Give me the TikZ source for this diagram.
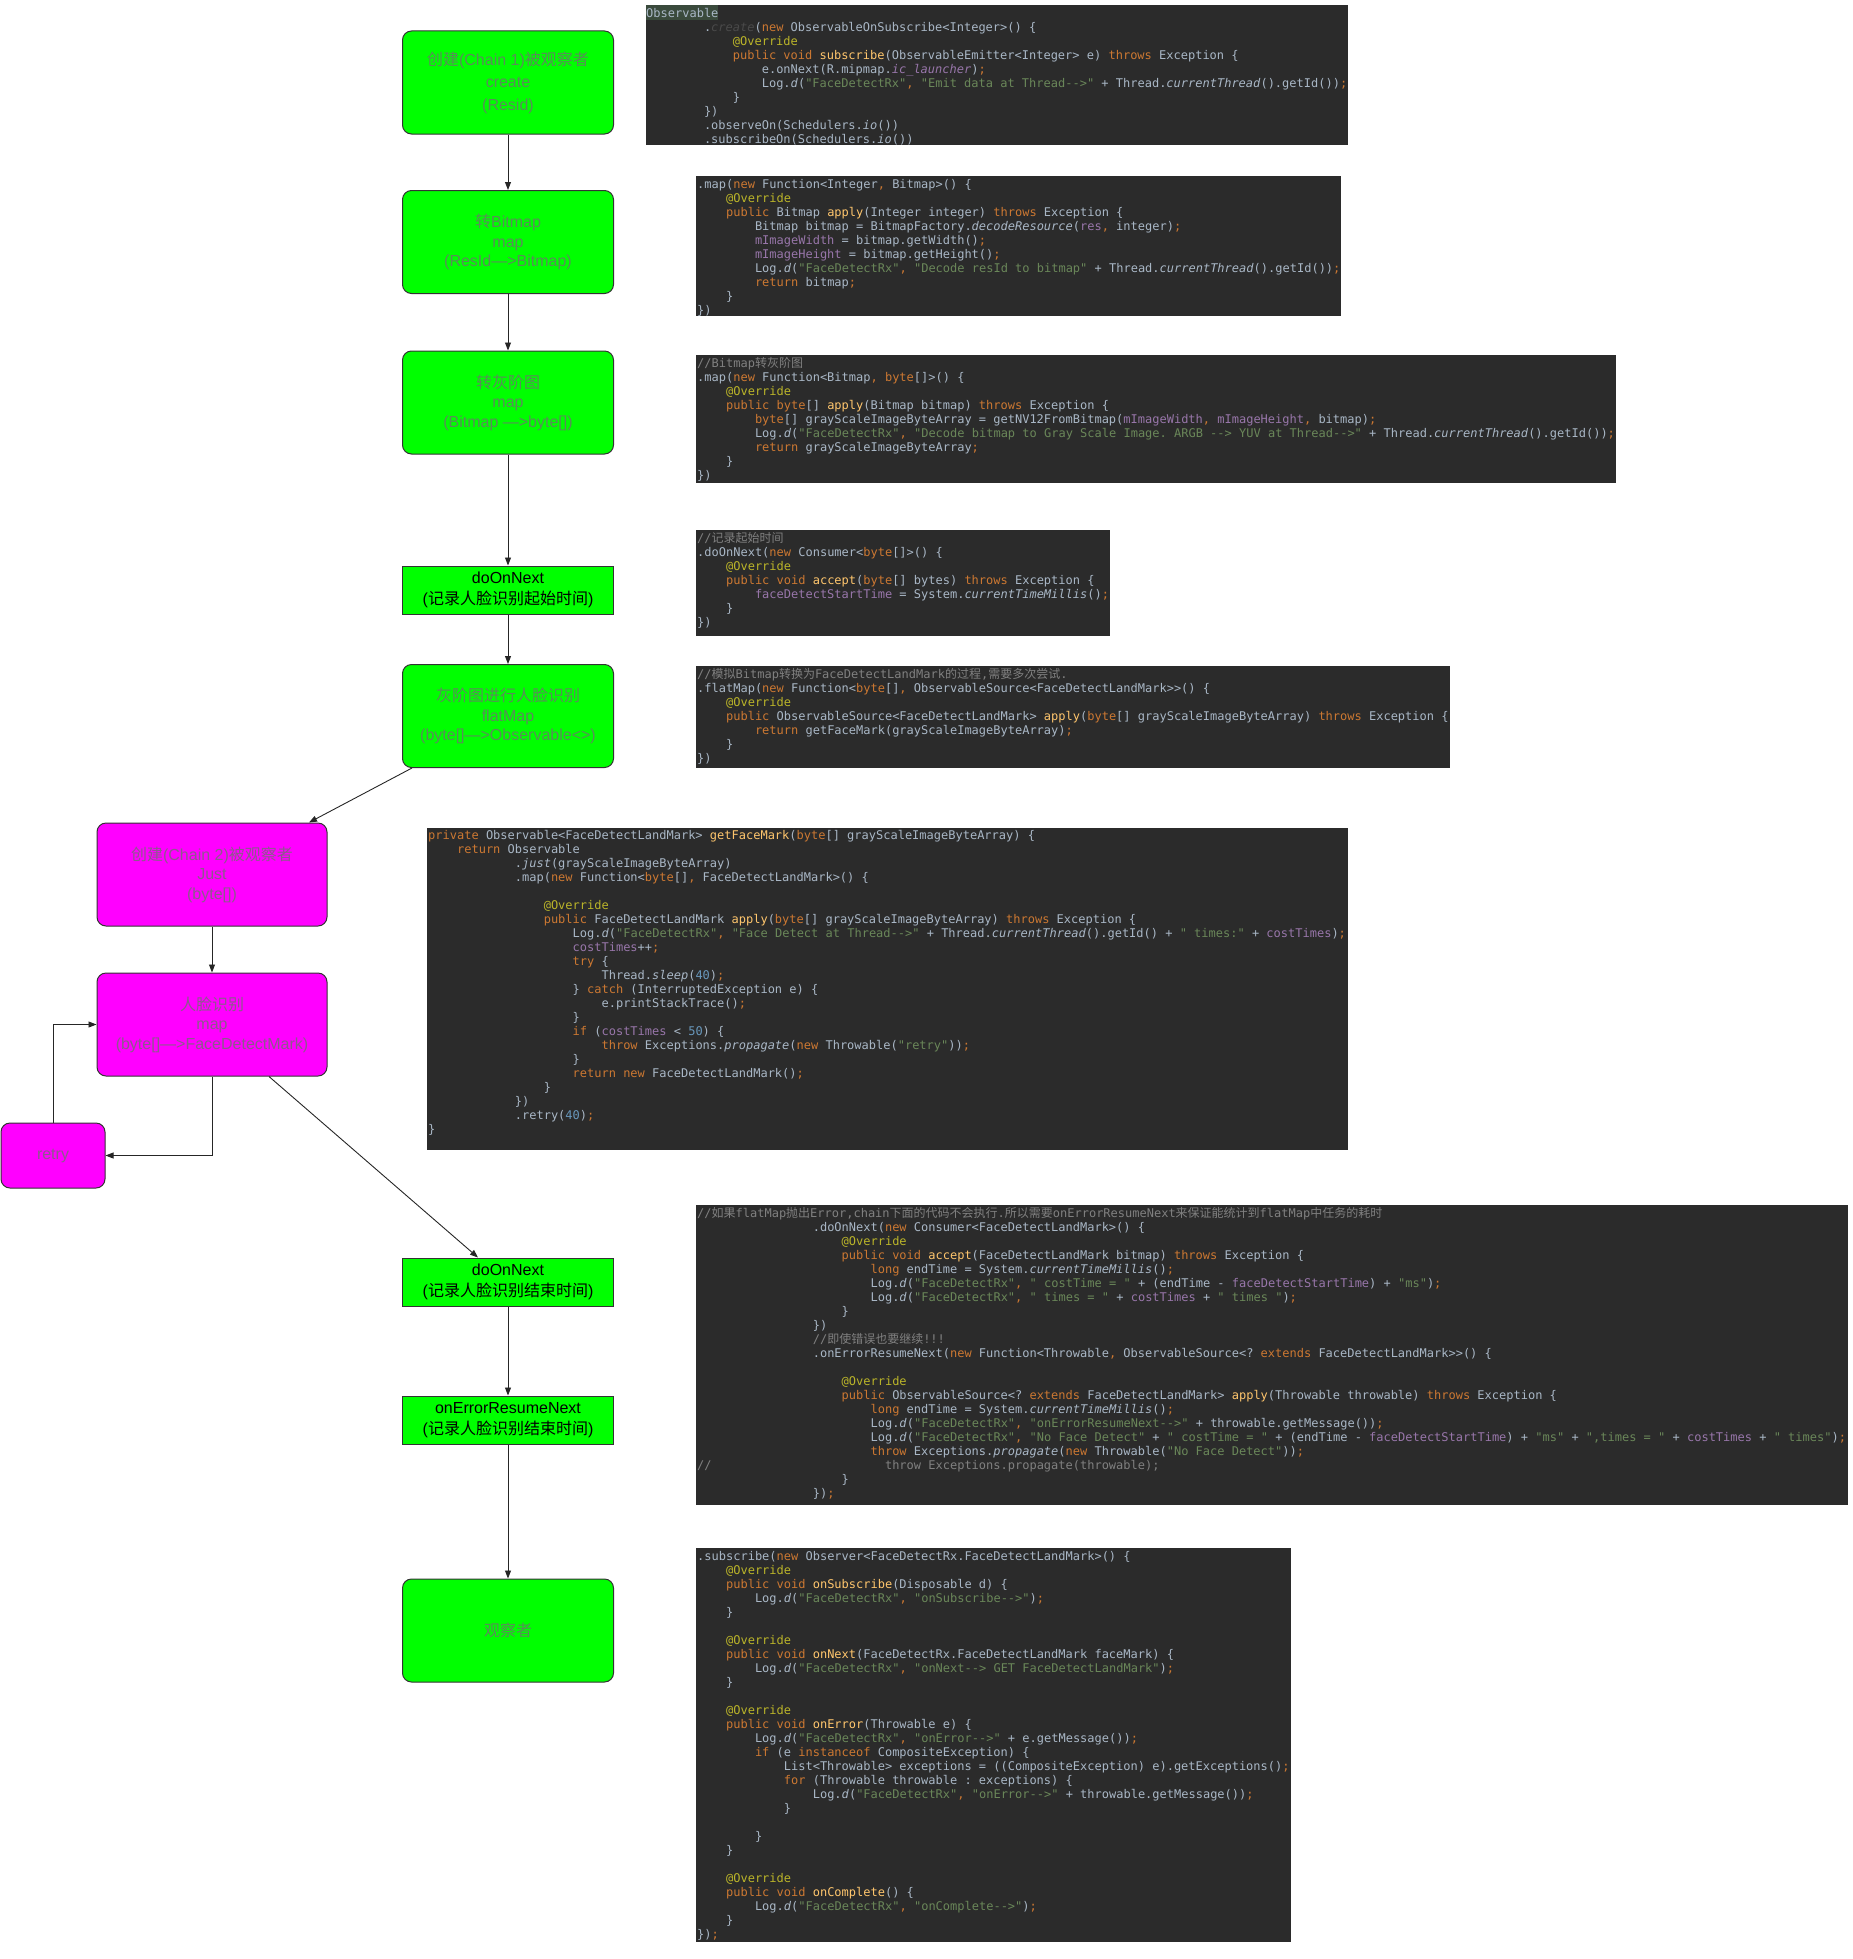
\documentclass[tikz,border=0pt]{standalone}
\usepackage{fontspec}
\setmainfont{Liberation Sans}
\setmonofont{DejaVu Sans Mono}
\newfontfamily\cjkfont{Noto Sans CJK SC}
\usetikzlibrary{arrows.meta, positioning, calc}

\definecolor{flowgreen}{HTML}{00FF00}
\definecolor{chainpink}{HTML}{FF00FF}
\definecolor{boxtext}{HTML}{707070}
\definecolor{codebg}{HTML}{2B2B2B}
\definecolor{codefg}{HTML}{A9B7C6}
\definecolor{hilite}{HTML}{3A4A3C}
\definecolor{cKey}{HTML}{CC7832}
\definecolor{cStr}{HTML}{6A8759}
\definecolor{cAnn}{HTML}{BBB529}
\definecolor{cFld}{HTML}{9876AA}
\definecolor{cMth}{HTML}{FFC66D}
\definecolor{cCmt}{HTML}{808080}
\definecolor{cNum}{HTML}{6897BB}
\definecolor{cDim}{HTML}{4A4A4A}

\newcommand\zh[1]{{\cjkfont #1}}
\newcommand\kw[1]{\textcolor{cKey}{#1}}
\newcommand\str[1]{\textcolor{cStr}{#1}}
\newcommand\ann[1]{\textcolor{cAnn}{#1}}
\newcommand\fld[1]{\textcolor{cFld}{#1}}
\newcommand\mth[1]{\textcolor{cMth}{#1}}
\newcommand\cmt[1]{\textcolor{cCmt}{#1}}
\newcommand\num[1]{\textcolor{cNum}{#1}}
\newcommand\ital[1]{\textit{#1}}
\newcommand\cma{\textcolor{cKey}{,}}
\newcommand\smc{\textcolor{cKey}{;}}
\newcommand\ind[1]{\hspace*{#1\fontcharwd\font`0}}
\newcommand\firstline{\rule{0pt}{11pt}}

\tikzset{
  flowbox/.style={draw=black!80, line width=1pt, rounded corners=9pt, fill=flowgreen,
    minimum width=211pt, minimum height=103pt, inner sep=0pt, align=center,
    text=boxtext, text opacity=0.8, font=\fontsize{16}{19.5}\selectfont},
  eventbox/.style={flowbox, sharp corners, minimum height=48pt, text=black, text opacity=1,
    font=\fontsize{16}{21.5}\selectfont},
  chainbox/.style={flowbox, fill=chainpink, minimum width=230pt},
  link/.style={-{Triangle[length=8pt,width=6pt]}, line width=0.9pt, draw=black!85},
  codepanel/.style={fill=codebg},
  codetext/.style={anchor=north west, inner sep=0pt, align=left, text=codefg,
    font=\ttfamily\fontsize{12}{14}\selectfont},
}

\begin{document}
\begin{tikzpicture}[x=1pt, y=-1pt]
\useasboundingbox (0,0) rectangle (1852,1959);

% chain 1
\node[flowbox, font=\fontsize{16}{22.5}\selectfont] (create) at (508,82.5) {\zh{创建}(Chain 1)\zh{被观察者}\\create\\(Resid)};
\node[flowbox] (tobitmap) at (508,242) {\zh{转}Bitmap\\map\\(ResId—>Bitmap)};
\node[flowbox] (togray) at (508,402.5) {\zh{转灰阶图}\\map\\(Bitmap —>byte[])};
\node[eventbox] (startnext) at (508,590) {doOnNext\\(\zh{记录人脸识别起始时间})};
\node[flowbox] (flatmap) at (508,716) {\zh{灰阶图进行人脸识别}\\flatMap\\(byte[]—>Observable<>)};

% chain 2
\node[chainbox] (chaintwo) at (212,874.5) {\zh{创建}(Chain 2)\zh{被观察者}\\Just\\(byte[])};
\node[chainbox] (detect) at (212,1024.5) {\zh{人脸识别}\\map\\(byte[]—>FaceDetectMark)};
\node[chainbox, minimum width=104pt, minimum height=65pt] (retry) at (53,1155.5) {retry};

\node[eventbox] (endnext) at (508,1282) {doOnNext\\(\zh{记录人脸识别结束时间})};
\node[eventbox] (resume) at (508,1420) {onErrorResumeNext\\(\zh{记录人脸识别结束时间})};
\node[flowbox] (observer) at (508,1630.5) {\zh{观察者}};

\draw[link] (create) -- (tobitmap);
\draw[link] (tobitmap) -- (togray);
\draw[link] (togray) -- (startnext);
\draw[link] (startnext) -- (flatmap);
\draw[link] ([xshift=-96pt]flatmap.south) -- ([xshift=97pt]chaintwo.north);
\draw[link] (chaintwo) -- (detect);
\draw[link] (detect.south) |- (retry.east);
\draw[link] (retry.north) |- (detect.west);
\draw[link] ([xshift=57pt]detect.south) -- ([xshift=-30pt]endnext.north);
\draw[link] (endnext) -- (resume);
\draw[link] (resume) -- (observer);

% code panels
\fill[codepanel] (646,5) rectangle (1348,145);
\fill[hilite] (646,5) rectangle (718,20);
\node[codetext] (code1) at (646,6) {\firstline Observable\\
\ind{8}.\textcolor{cDim}{\textit{create}}(\kw{new} ObservableOnSubscribe<Integer>() \{\\
\ind{12}\ann{@Override}\\
\ind{12}\kw{public void} \mth{subscribe}(ObservableEmitter<Integer> e) \kw{throws} Exception \{\\
\ind{16}e.onNext(R.mipmap.\fld{\textit{ic\_launcher}})\smc\\
\ind{16}Log.\ital{d}(\str{"FaceDetectRx"}\cma{} \str{"Emit data at Thread-->"} + Thread.\ital{currentThread}().getId())\smc\\
\ind{12}\}\\
\ind{8}\})\\
\ind{8}.observeOn(Schedulers.\ital{io}())\\
\ind{8}.subscribeOn(Schedulers.\ital{io}())};

\fill[codepanel] (696,176) rectangle (1341,316);
\node[codetext] (code2) at (697,177) {\firstline .map(\kw{new} Function<Integer\cma{} Bitmap>() \{\\
\ind{4}\ann{@Override}\\
\ind{4}\kw{public} Bitmap \mth{apply}(Integer integer) \kw{throws} Exception \{\\
\ind{8}Bitmap bitmap = BitmapFactory.\ital{decodeResource}(\fld{res}\cma{} integer)\smc\\
\ind{8}\fld{mImageWidth} = bitmap.getWidth()\smc\\
\ind{8}\fld{mImageHeight} = bitmap.getHeight()\smc\\
\ind{8}Log.\ital{d}(\str{"FaceDetectRx"}\cma{} \str{"Decode resId to bitmap"} + Thread.\ital{currentThread}().getId())\smc\\
\ind{8}\kw{return} bitmap\smc\\
\ind{4}\}\\
\})};

\fill[codepanel] (696,355) rectangle (1616,483);
\node[codetext] (code3) at (697,356) {\firstline\cmt{//Bitmap\zh{转灰阶图}}\\
.map(\kw{new} Function<Bitmap\cma{} \kw{byte}[]>() \{\\
\ind{4}\ann{@Override}\\
\ind{4}\kw{public byte}[] \mth{apply}(Bitmap bitmap) \kw{throws} Exception \{\\
\ind{8}\kw{byte}[] grayScaleImageByteArray = getNV12FromBitmap(\fld{mImageWidth}\cma{} \fld{mImageHeight}\cma{} bitmap)\smc\\
\ind{8}Log.\ital{d}(\str{"FaceDetectRx"}\cma{} \str{"Decode bitmap to Gray Scale Image. ARGB --> YUV at Thread-->"} + Thread.\ital{currentThread}().getId())\smc\\
\ind{8}\kw{return} grayScaleImageByteArray\smc\\
\ind{4}\}\\
\})};

\fill[codepanel] (696,530) rectangle (1110,636);
\node[codetext] (code4) at (697,531) {\firstline\cmt{//\zh{记录起始时间}}\\
.doOnNext(\kw{new} Consumer<\kw{byte}[]>() \{\\
\ind{4}\ann{@Override}\\
\ind{4}\kw{public void} \mth{accept}(\kw{byte}[] bytes) \kw{throws} Exception \{\\
\ind{8}\fld{faceDetectStartTime} = System.\ital{currentTimeMillis}()\smc\\
\ind{4}\}\\
\})};

\fill[codepanel] (696,666) rectangle (1450,768);
\node[codetext] (code5) at (697,667) {\firstline\cmt{//\zh{模拟}Bitmap\zh{转换为}FaceDetectLandMark\zh{的过程},\zh{需要多次尝试}.}\\
.flatMap(\kw{new} Function<\kw{byte}[]\cma{} ObservableSource<FaceDetectLandMark>>() \{\\
\ind{4}\ann{@Override}\\
\ind{4}\kw{public} ObservableSource<FaceDetectLandMark> \mth{apply}(\kw{byte}[] grayScaleImageByteArray) \kw{throws} Exception \{\\
\ind{8}\kw{return} getFaceMark(grayScaleImageByteArray)\smc\\
\ind{4}\}\\
\})};

\fill[codepanel] (427,828) rectangle (1348,1150);
\node[codetext] (code6) at (428,828) {\firstline\kw{private} Observable<FaceDetectLandMark> \mth{getFaceMark}(\kw{byte}[] grayScaleImageByteArray) \{\\
\ind{4}\kw{return} Observable\\
\ind{12}.\ital{just}(grayScaleImageByteArray)\\
\ind{12}.map(\kw{new} Function<\kw{byte}[]\cma{} FaceDetectLandMark>() \{\\
\mbox{}\\
\ind{16}\ann{@Override}\\
\ind{16}\kw{public} FaceDetectLandMark \mth{apply}(\kw{byte}[] grayScaleImageByteArray) \kw{throws} Exception \{\\
\ind{20}Log.\ital{d}(\str{"FaceDetectRx"}\cma{} \str{"Face Detect at Thread-->"} + Thread.\ital{currentThread}().getId() + \str{" times:"} + \fld{costTimes})\smc\\
\ind{20}\fld{costTimes}++\smc\\
\ind{20}\kw{try} \{\\
\ind{24}Thread.\ital{sleep}(\num{40})\smc\\
\ind{20}\} \kw{catch} (InterruptedException e) \{\\
\ind{24}e.printStackTrace()\smc\\
\ind{20}\}\\
\ind{20}\kw{if} (\fld{costTimes} < \num{50}) \{\\
\ind{24}\kw{throw} Exceptions.\ital{propagate}(\kw{new} Throwable(\str{"retry"}))\smc\\
\ind{20}\}\\
\ind{20}\kw{return new} FaceDetectLandMark()\smc\\
\ind{16}\}\\
\ind{12}\})\\
\ind{12}.retry(\num{40})\smc\\
\}};

\fill[codepanel] (696,1205) rectangle (1848,1505);
\node[codetext] (code7) at (697,1206) {\firstline\cmt{//\zh{如果}flatMap\zh{抛出}Error,chain\zh{下面的代码不会执行}.\zh{所以需要}onErrorResumeNext\zh{来保证能统计到}flatMap\zh{中任务的耗时}}\\
\ind{16}.doOnNext(\kw{new} Consumer<FaceDetectLandMark>() \{\\
\ind{20}\ann{@Override}\\
\ind{20}\kw{public void} \mth{accept}(FaceDetectLandMark bitmap) \kw{throws} Exception \{\\
\ind{24}\kw{long} endTime = System.\ital{currentTimeMillis}()\smc\\
\ind{24}Log.\ital{d}(\str{"FaceDetectRx"}\cma{} \str{" costTime = "} + (endTime - \fld{faceDetectStartTime}) + \str{"ms"})\smc\\
\ind{24}Log.\ital{d}(\str{"FaceDetectRx"}\cma{} \str{" times = "} + \fld{costTimes} + \str{" times "})\smc\\
\ind{20}\}\\
\ind{16}\})\\
\ind{16}\cmt{//\zh{即使错误也要继续}!!!}\\
\ind{16}.onErrorResumeNext(\kw{new} Function<Throwable\cma{} ObservableSource<? \kw{extends} FaceDetectLandMark>>() \{\\
\mbox{}\\
\ind{20}\ann{@Override}\\
\ind{20}\kw{public} ObservableSource<? \kw{extends} FaceDetectLandMark> \mth{apply}(Throwable throwable) \kw{throws} Exception \{\\
\ind{24}\kw{long} endTime = System.\ital{currentTimeMillis}()\smc\\
\ind{24}Log.\ital{d}(\str{"FaceDetectRx"}\cma{} \str{"onErrorResumeNext-->"} + throwable.getMessage())\smc\\
\ind{24}Log.\ital{d}(\str{"FaceDetectRx"}\cma{} \str{"No Face Detect"} + \str{" costTime = "} + (endTime - \fld{faceDetectStartTime}) + \str{"ms"} + \str{",times = "} + \fld{costTimes} + \str{" times"})\smc\\
\ind{24}\kw{throw} Exceptions.\ital{propagate}(\kw{new} Throwable(\str{"No Face Detect"}))\smc\\
\cmt{//\ind{24}throw Exceptions.propagate(throwable);}\\
\ind{20}\}\\
\ind{16}\})\smc};

\fill[codepanel] (696,1548) rectangle (1291,1942);
\node[codetext] (code8) at (697,1549) {\firstline .subscribe(\kw{new} Observer<FaceDetectRx.FaceDetectLandMark>() \{\\
\ind{4}\ann{@Override}\\
\ind{4}\kw{public void} \mth{onSubscribe}(Disposable d) \{\\
\ind{8}Log.\ital{d}(\str{"FaceDetectRx"}\cma{} \str{"onSubscribe-->"})\smc\\
\ind{4}\}\\
\mbox{}\\
\ind{4}\ann{@Override}\\
\ind{4}\kw{public void} \mth{onNext}(FaceDetectRx.FaceDetectLandMark faceMark) \{\\
\ind{8}Log.\ital{d}(\str{"FaceDetectRx"}\cma{} \str{"onNext--> GET FaceDetectLandMark"})\smc\\
\ind{4}\}\\
\mbox{}\\
\ind{4}\ann{@Override}\\
\ind{4}\kw{public void} \mth{onError}(Throwable e) \{\\
\ind{8}Log.\ital{d}(\str{"FaceDetectRx"}\cma{} \str{"onError-->"} + e.getMessage())\smc\\
\ind{8}\kw{if} (e \kw{instanceof} CompositeException) \{\\
\ind{12}List<Throwable> exceptions = ((CompositeException) e).getExceptions()\smc\\
\ind{12}\kw{for} (Throwable throwable : exceptions) \{\\
\ind{16}Log.\ital{d}(\str{"FaceDetectRx"}\cma{} \str{"onError-->"} + throwable.getMessage())\smc\\
\ind{12}\}\\
\mbox{}\\
\ind{8}\}\\
\ind{4}\}\\
\mbox{}\\
\ind{4}\ann{@Override}\\
\ind{4}\kw{public void} \mth{onComplete}() \{\\
\ind{8}Log.\ital{d}(\str{"FaceDetectRx"}\cma{} \str{"onComplete-->"})\smc\\
\ind{4}\}\\
\})\smc};
\end{tikzpicture}
\end{document}
